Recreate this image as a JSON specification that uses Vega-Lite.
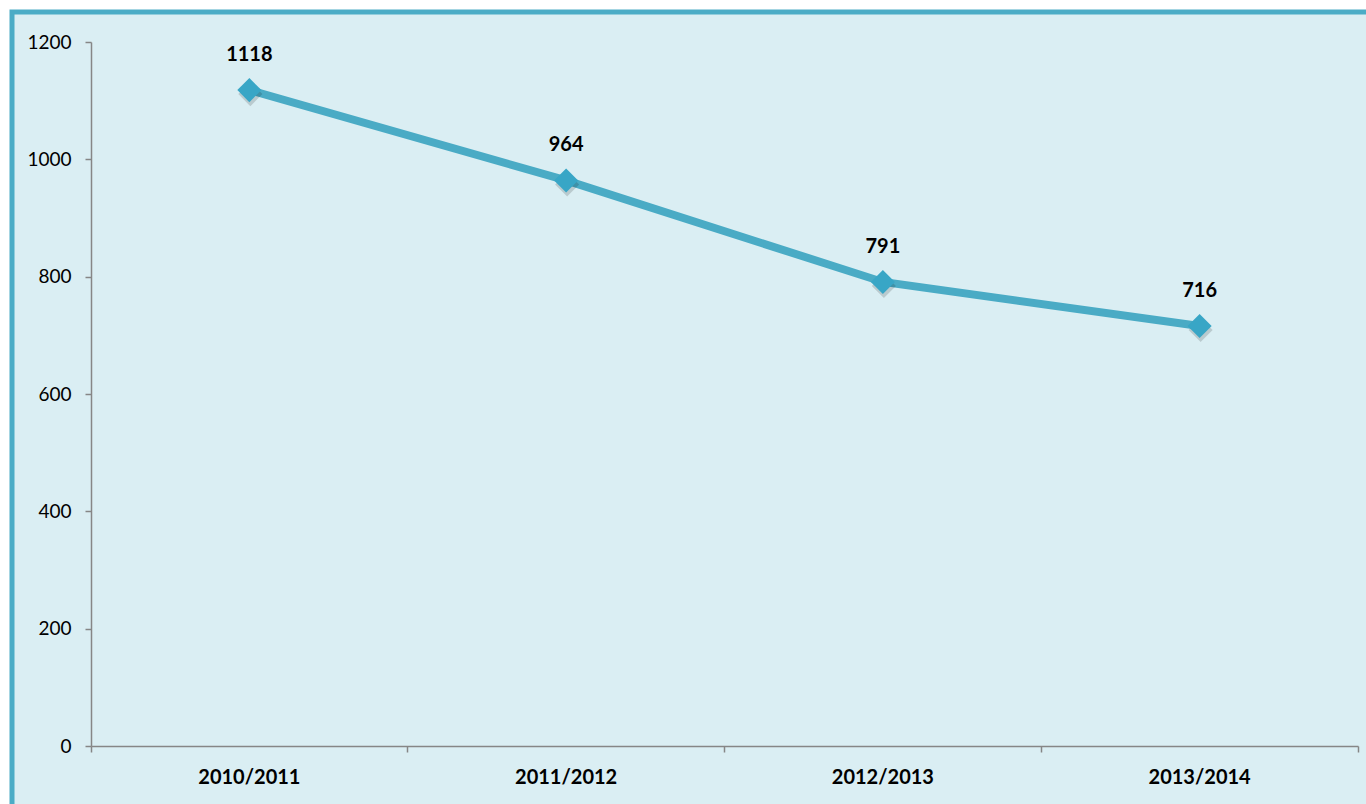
{
  "$schema": "https://vega.github.io/schema/vega-lite/v6.json",
  "width": 1360,
  "height": 798,
  "autosize": {"type": "none"},
  "padding": {"left": 12, "top": 12, "right": 0, "bottom": 0},
  "background": "white",
  "config": {
    "view": {"fill": "#DAEEF3", "stroke": "#4BACC6", "strokeWidth": 5},
    "font": "Lato"
  },
  "data": {
    "values": [
      {"season": "2010/2011", "value": 1118},
      {"season": "2011/2012", "value": 964},
      {"season": "2012/2013", "value": 791},
      {"season": "2013/2014", "value": 716}
    ]
  },
  "encoding": {
    "x": {
      "field": "season",
      "type": "nominal",
      "sort": null,
      "scale": {"type": "band", "range": [79, 1346], "paddingInner": 0, "paddingOuter": 0},
      "axis": {
        "orient": "bottom",
        "offset": -64,
        "title": null,
        "grid": false,
        "labelAngle": 0,
        "domainColor": "#868686",
        "domainWidth": 1.5,
        "tickColor": "#868686",
        "tickWidth": 1.5,
        "tickSize": 6,
        "bandPosition": 1,
        "tickExtra": true,
        "labelFont": "Lato",
        "labelFontSize": 20,
        "labelFontWeight": "bold",
        "labelColor": "#000000",
        "labelPadding": 15
      }
    },
    "y": {
      "field": "value",
      "type": "quantitative",
      "scale": {"domain": [0, 1200], "range": [734, 30], "nice": false, "zero": true},
      "axis": {
        "orient": "left",
        "offset": -79,
        "title": null,
        "grid": false,
        "format": "d",
        "values": [0, 200, 400, 600, 800, 1000, 1200],
        "domainColor": "#868686",
        "domainWidth": 1.5,
        "tickColor": "#868686",
        "tickWidth": 1.5,
        "tickSize": 6,
        "labelFont": "Lato",
        "labelFontSize": 19,
        "labelColor": "#000000",
        "labelPadding": 14
      }
    }
  },
  "layer": [
    {"mark": {"type": "line", "color": "#4AABC5", "strokeWidth": 8}},
    {"mark": {"type": "point", "shape": "diamond", "filled": true, "size": 580, "color": "#000000", "opacity": 0.15, "yOffset": 4, "xOffset": 1}},
    {"mark": {"type": "point", "shape": "diamond", "filled": true, "size": 580, "color": "#38A6C6", "opacity": 1}},
    {
      "mark": {"type": "text", "baseline": "alphabetic", "dy": -29, "fontSize": 20, "fontWeight": "bold", "font": "Lato", "color": "#000000"},
      "encoding": {"text": {"field": "value", "type": "quantitative"}}
    }
  ]
}
